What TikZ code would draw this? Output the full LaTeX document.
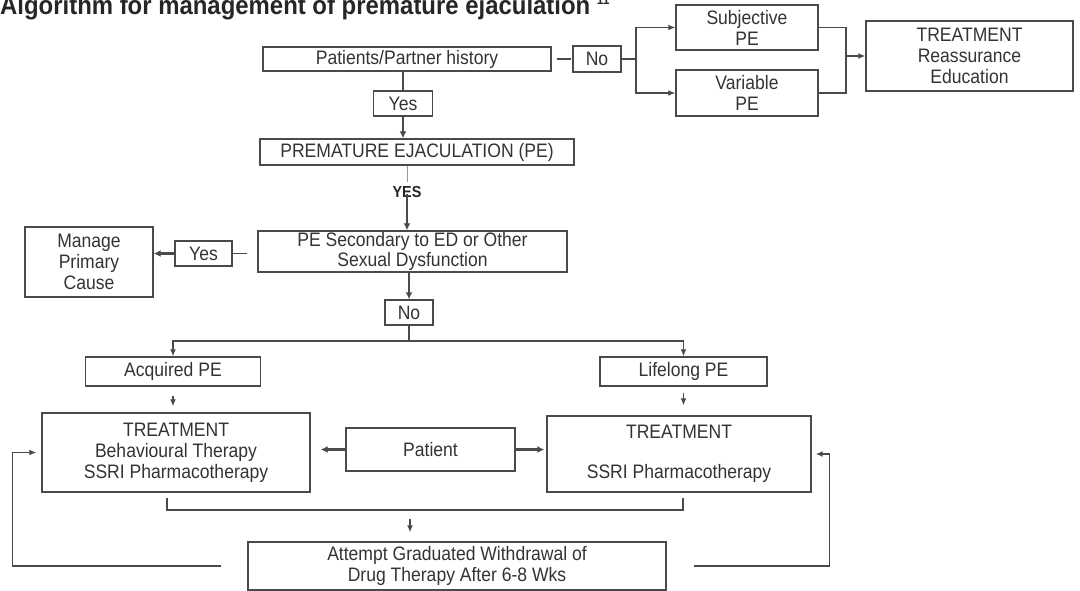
\documentclass[tikz,border=0pt]{standalone}
\usepackage{fontspec}
\setmainfont[FakeStretch=0.9]{Liberation Sans}
\newfontfamily\titlefont[FakeStretch=0.92]{Liberation Sans}
\usetikzlibrary{arrows.meta}
\definecolor{ink}{HTML}{333333}
\definecolor{linec}{HTML}{4A4A4A}
\begin{document}
\begin{tikzpicture}[x=1pt,y=-1pt,
  bx/.style={draw=linec, line width=1.4pt, inner sep=0pt, align=center, text=ink, font=\fontsize{19.5}{21}\selectfont},
  ln/.style={draw=linec, line width=1.3pt},
  arr/.style={ln, -{Latex[length=7pt,width=6pt]}},
  tarr/.style={draw=linec, line width=2.2pt, -{Latex[length=7pt,width=7pt]}}]
\useasboundingbox (0,0) rectangle (1080,591);
% title
\node[anchor=base west, font=\titlefont\fontsize{26}{28}\selectfont\bfseries, text=black!85, inner sep=0pt] (title) at (0,15) {Algorithm for management of premature ejaculation {\fontsize{13}{13}\selectfont\raisebox{10pt}{11}}};
% boxes
\node[bx, minimum width=288pt, minimum height=24pt] (hist) at (407,59) {Patients/Partner history};
\node[bx, minimum width=48pt, minimum height=26pt] (no1) at (597,59) {No};
\node[bx, minimum width=142pt, minimum height=45pt] (subj) at (747,27.5) {Subjective\\PE};
\node[bx, minimum width=142pt, minimum height=46pt] (var) at (747,93) {Variable\\PE};
\node[bx, minimum width=207pt, minimum height=70pt] (treat1) at (969.5,56) {TREATMENT\\Reassurance\\Education};
\node[bx, minimum width=59pt, minimum height=25pt] (yes1) at (403,103.5) {Yes};
\node[bx, minimum width=314pt, minimum height=26pt] (pe) at (417,152) {PREMATURE EJACULATION (PE)};
\node[inner sep=0pt, text=black!85, font=\fontsize{16}{18}\selectfont\bfseries] (yeslbl) at (407,192) {YES};
\node[bx, minimum width=309pt, minimum height=41pt, font=\fontsize{19.5}{15.5}\selectfont] (sec) at (412.5,251.5) {PE Secondary to ED or Other\\Sexual Dysfunction};
\node[bx, minimum width=57pt, minimum height=25pt] (yes2) at (203.5,253.5) {Yes};
\node[bx, minimum width=128pt, minimum height=70pt] (manage) at (89,262) {Manage\\Primary\\Cause};
\node[bx, minimum width=48pt, minimum height=25pt] (no2) at (409,312.5) {No};
\node[bx, minimum width=175pt, minimum height=29pt] (acq) at (173,371.5) {Acquired PE};
\node[bx, minimum width=167pt, minimum height=29pt] (life) at (683.5,371.5) {Lifelong PE};
\node[bx, minimum width=268pt, minimum height=79pt] (treatL) at (176,452.5) {TREATMENT\\Behavioural Therapy\\SSRI Pharmacotherapy};
\node[bx, minimum width=169pt, minimum height=43pt] (patient) at (430.5,449.5) {Patient};
\node[bx, minimum width=264pt, minimum height=76pt] (treatR) at (679,454) {TREATMENT\\[19pt]SSRI Pharmacotherapy};
\node[bx, minimum width=418pt, minimum height=48pt] (attempt) at (457,566) {Attempt Graduated Withdrawal of\\Drug Therapy After 6-8 Wks};
% junctions
\coordinate (jn1) at (636,59);
\coordinate (jn2) at (846,56);
\coordinate (jn3) at (409,341);
\coordinate (bl) at (167,498);
\coordinate (br) at (683,498);
\coordinate (bm) at (410,510);
% connectors top
\draw[ln, shorten <=5pt, shorten >=1pt] (hist.east) -- (no1.west);
\draw[ln] (no1.east) -- (jn1);
\draw[arr] (jn1) |- (subj.west);
\draw[arr] (jn1) |- (var.west);
\draw[ln] (subj.east) -| (jn2);
\draw[ln] (var.east) -| (jn2);
\draw[arr] (jn2) -- (treat1.west);
% main column
\draw[ln] (yes1.north |- hist.south) -- (yes1.north);
\draw[tarr] (yes1.south) -- (yes1.south |- pe.north);
\draw[ln, draw=black!40, line width=1pt, shorten >=4pt] (yeslbl.north |- pe.south) -- (yeslbl.north);
\draw[tarr] ([yshift=4pt]yeslbl.south) -- (yeslbl.south |- sec.north);
\draw[ln, shorten <=10pt] (sec.west |- yes2.east) -- (yes2.east);
\draw[tarr] (yes2.west) -- (yes2.west -| manage.east);
\draw[tarr] (no2.north |- sec.south) -- (no2.north);
\draw[ln] (no2.south) -- (jn3);
\draw[arr] (jn3) -| (acq.north);
\draw[arr] (jn3) -| (life.north);
% treatment row
\draw[arr, shorten <=9pt, shorten >=6pt] (acq.south) -- (acq.south |- treatL.north);
\draw[arr, shorten <=6pt, shorten >=10pt] (life.south) -- (life.south |- treatR.north);
\draw[tarr, shorten >=10pt] (patient.west) -- (patient.west -| treatL.east);
\draw[tarr, shorten >=2pt] (patient.east) -- (patient.east -| treatR.west);
% bracket
\draw[ln] (bl) -- (bl |- bm) -- (br |- bm) -- (br);
\draw[arr, shorten <=9pt, shorten >=9pt] (bm) -- (bm |- attempt.north);
% feedback loops
\draw[arr, shorten <=26pt, shorten >=5pt] (attempt.west) -- ++(-235,0) |- (treatL.west);
\draw[arr, shorten <=27pt, shorten >=4pt] (attempt.east) -- ++(163,0) |- (treatR.east);
\end{tikzpicture}
\end{document}
